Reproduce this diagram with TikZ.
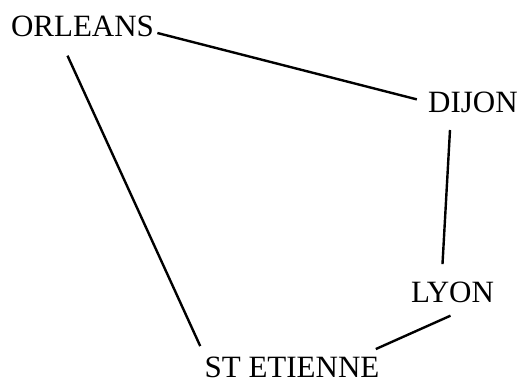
\documentclass[tikz,border=0pt]{standalone}
\usepackage{fontspec}
\setmainfont{Liberation Serif}
\tikzset{
  city/.style = {inner sep = 0pt, anchor = base, font = \fontsize{15.5}{18}\selectfont},
  road/.style = {line width = 1.2pt, black}
}
\begin{document}
\begin{tikzpicture}[x = 0.5pt, y = -0.5pt]
\useasboundingbox (0, 0) rectangle (521, 383);
\node[city] (orleans) at (82.5, 37) {ORLEANS};
\node[city] (dijon) at (473, 113) {DIJON};
\node[city] (lyon) at (452.5, 303) {LYON};
\node[city] (stetienne) at (292, 378) {ST ETIENNE};
\draw[road] ([shift = {(3, -4)}]orleans.base east) -- ([shift = {(-11, -3.5)}]dijon.west);
\draw[road] ([shift = {(-15, 18)}]orleans.south) -- ([shift = {(-4, -11)}]stetienne.north west);
\draw[road] ([shift = {(-23, 17)}]dijon.base) -- ([shift = {(-10, -18)}]lyon.north);
\draw[road] ([shift = {(-2, 12)}]lyon.south) -- ([shift = {(-4, -8)}]stetienne.north east);
\end{tikzpicture}
\end{document}
